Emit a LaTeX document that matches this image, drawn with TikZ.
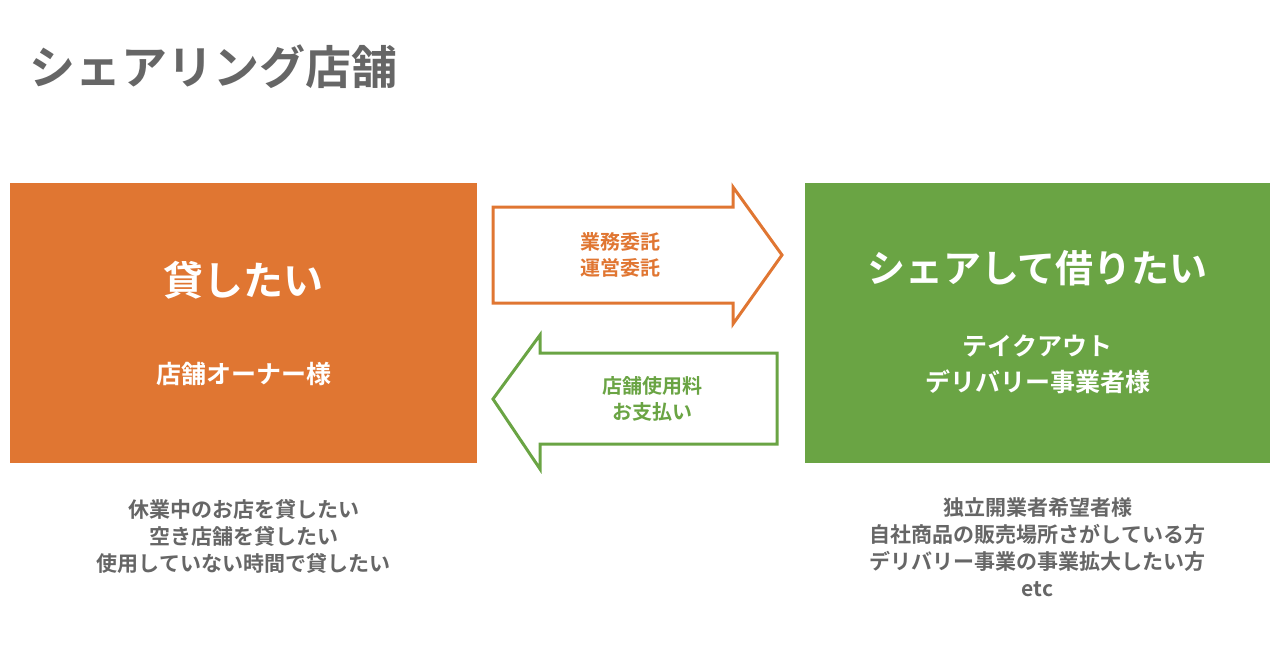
\documentclass[tikz,border=0pt]{standalone}
\usepackage{fontspec}
\setmainfont{Noto Sans CJK JP}[BoldFont={Noto Sans CJK JP Bold}]
\newfontfamily\jpb{Noto Sans CJK JP Bold}
\definecolor{org}{HTML}{E07632}
\definecolor{grn}{HTML}{6AA444}
\definecolor{gry}{HTML}{666666}
\tikzset{box/.style={inner sep=0,minimum width=467pt,minimum height=280pt},
wt/.style={text=white,align=center,font=\jpb},
lab/.style={align=center,font=\jpb\fontsize{20}{26}\selectfont},
note/.style={text=gry,align=center,font=\jpb\fontsize{21}{27}\selectfont}}
\begin{document}
\begin{tikzpicture}[x=1pt,y=-1pt]
\useasboundingbox (0,0) rectangle (1280,670);
\node[anchor=west,text=gry,font=\jpb\fontsize{46}{50}\selectfont] (title) at (26,67) {シェアリング店舗};
\node[box,fill=org] (lb) at (243.5,323) {};
\node[box,fill=grn,minimum width=465pt] (rb) at (1037.5,323) {};
\node[wt,font=\jpb\fontsize{40}{48}\selectfont] (l1) at (243.5,280) {貸したい};
\node[wt,font=\jpb\fontsize{25}{30}\selectfont] (l2) at (243.5,374) {店舗オーナー様};
\node[wt,font=\jpb\fontsize{38}{46}\selectfont] (r1) at (1037.5,268) {シェアして借りたい};
\node[wt,font=\jpb\fontsize{25}{36}\selectfont] (r2) at (1037.5,364) {テイクアウト\\デリバリー事業者様};
\draw[org,line width=3pt,line join=miter] (493,207) -- (733,207) -- (733,187) -- (782,255) -- (733,324) -- (733,303) -- (493,303) -- cycle;
\node[lab,text=org] (a1) at (620,255) {業務委託\\運営委託};
\draw[grn,line width=3pt,line join=miter] (777,353) -- (540,353) -- (540,335) -- (493,399) -- (540,469) -- (540,444) -- (777,444) -- cycle;
\node[lab,text=grn] (a2) at (652,399) {店舗使用料\\お支払い};
\node[note] (n1) at (243.5,536) {休業中のお店を貸したい\\空き店舗を貸したい\\使用していない時間で貸したい};
\node[note] (n2) at (1037.5,547) {独立開業者希望者様\\自社商品の販売場所さがしている方\\デリバリー事業の事業拡大したい方\\etc};
\end{tikzpicture}
\end{document}
